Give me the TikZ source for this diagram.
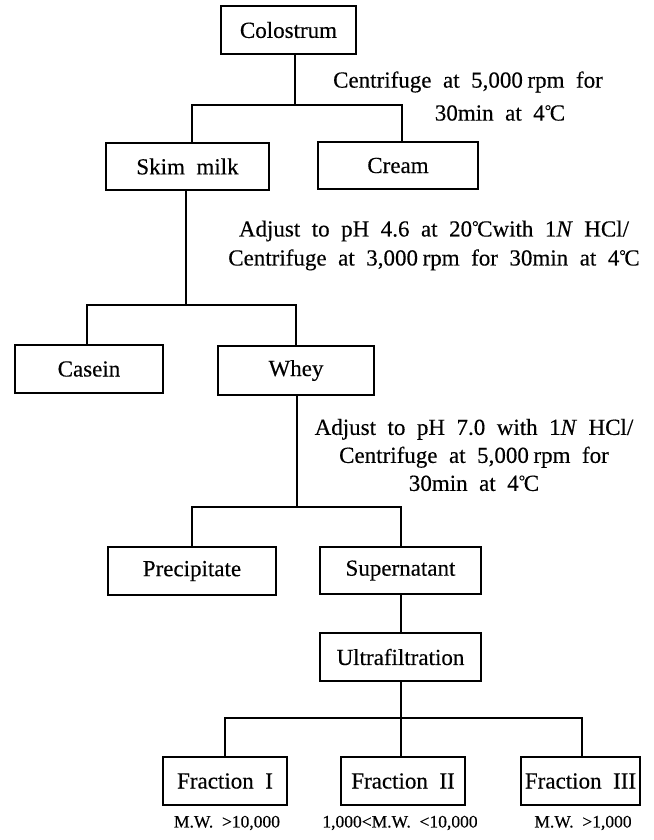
\documentclass[tikz,border=0pt]{standalone}
\usepackage{fontspec}
\setmainfont{Liberation Serif}[WordSpace=2.0, FakeBold=0.3]
\newcommand{\degc}{\raisebox{0.2em}{\fontsize{0.7em}{1em}\selectfont °}\kern-0.06em C}
\begin{document}
\begin{tikzpicture}[x=1pt,y=-1pt,
  box/.style={draw, line width=1.3pt, inner sep=0pt, font=\fontsize{23}{27}\selectfont},
  conn/.style={line width=1.2pt},
  lbl/.style={inner sep=0pt, font=\fontsize{23}{27}\selectfont, align=center},
  mw/.style={inner sep=0pt, font=\fontsize{17.5}{20}\selectfont}]
\useasboundingbox (0,0) rectangle (653,840);
\fill[white] (0,0) rectangle (653,840);
% boxes
\node[box, minimum width=135pt, minimum height=48pt] (col) at (288.5,30) {Colostrum};
\node[box, minimum width=163pt, minimum height=47pt] (skim) at (187.5,166.5) {Skim milk};
\node[box, minimum width=160pt, minimum height=47pt] (cream) at (398,165.5) {Cream};
\node[box, minimum width=148pt, minimum height=48pt] (casein) at (89,369) {Casein};
\node[box, minimum width=156pt, minimum height=49pt] (whey) at (296,370.5) {Whey};
\node[box, minimum width=168pt, minimum height=48pt] (prec) at (192,571) {Precipitate};
\node[box, minimum width=161pt, minimum height=47pt] (super) at (400.5,570.5) {Supernatant};
\node[box, minimum width=161pt, minimum height=48pt] (ultra) at (400.5,657) {Ultrafiltration};
\node[box, minimum width=124pt, minimum height=48pt] (f1) at (225,781) {Fraction I};
\node[box, minimum width=124pt, minimum height=48pt] (f2) at (403,781) {Fraction II};
\node[box, minimum width=119pt, minimum height=48pt] (f3) at (580.5,781) {Fraction III};
% junction coordinates
\coordinate (j1) at (295,105);
\coordinate (j1l) at (192,105);
\coordinate (j1r) at (402,105);
\coordinate (j2) at (186,305);
\coordinate (j2l) at (87,305);
\coordinate (j2r) at (296,305);
\coordinate (j3) at (297,507);
\coordinate (j3l) at (192,507);
\coordinate (j3r) at (401,507);
\coordinate (j4) at (401,718);
\coordinate (j4l) at (225,718);
\coordinate (j4r) at (582,718);
% connectors
\draw[conn] (j1 |- col.south) -- (j1);
\draw[conn] (j1l |- skim.north) -- (j1l) -- (j1r) -- (j1r |- cream.north);
\draw[conn] (j2 |- skim.south) -- (j2);
\draw[conn] (j2l |- casein.north) -- (j2l) -- (j2r) -- (j2r |- whey.north);
\draw[conn] (j3 |- whey.south) -- (j3);
\draw[conn] (j3l |- prec.north) -- (j3l) -- (j3r) -- (j3r |- super.north);
\draw[conn] (j4 |- super.south) -- (j4 |- ultra.north);
\draw[conn] (j4 |- ultra.south) -- (j4);
\draw[conn] (j4l |- f1.north) -- (j4l) -- (j4r) -- (j4r |- f3.north);
\draw[conn] (j4) -- (j4 |- f2.north);
% process labels
\node[lbl] (t1a) at (468,82) {Centrifuge at 5,000\hspace{0.2em}rpm for};
\node[lbl] (t1b) at (500,113) {30min at 4\degc};
\node[lbl] (t2) at (434,245.5) {Adjust to pH 4.6 at 20\degc with 1\textit{N} HCl/\\[2pt]Centrifuge at 3,000\hspace{0.2em}rpm for 30min at 4\degc};
\node[lbl] (t3) at (474,455) {Adjust to pH 7.0 with 1\textit{N} HCl/\\[1pt]Centrifuge at 5,000\hspace{0.2em}rpm for\\[1pt]30min at 4\degc};
% molecular weight labels
\node[mw] (m1) at (227,823) {M.W. >10,000};
\node[mw] (m2) at (400,823) {1,000<M.W. <10,000};
\node[mw] (m3) at (583,823) {M.W. >1,000};
\end{tikzpicture}
\end{document}
